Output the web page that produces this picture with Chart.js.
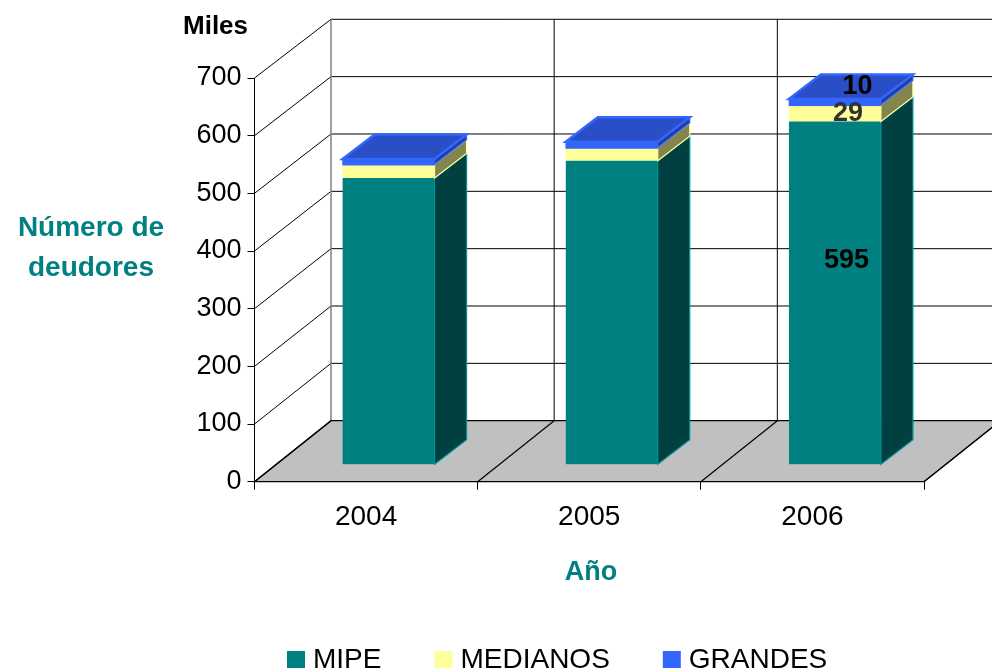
<!DOCTYPE html>
<html>
<head>
<meta charset="utf-8">
<title>Número de deudores</title>
<script src="https://cdn.jsdelivr.net/npm/chart.js@4.4.0/dist/chart.umd.min.js"></script>
<style>
    html, body { margin: 0; padding: 0; background: #fff; }
    #chart { display: block; }
</style>
</head>
<body>
<canvas id="chart" width="992" height="669"></canvas>
<script>
// --- Data (miles de deudores) ---
const years = ['2004', '2005', '2006'];
const mipe = [497, 527, 595];
const medianos = [24, 23, 29];
const grandes = [9, 10, 10];
const yMin = 0, yMax = 700, yStep = 100;
const labelledYears = ['2006'];

const FONT = "'Liberation Sans', Arial, sans-serif";
const TEAL = '#008080';

// oblique projection of the 3D box
const FLOOR = { dx: 76.5, dy: -61, k: 0.9943 };
const BAR = { dx: 22.5, dy: -17, depthX: 32, depthY: -24.5 };
const LABEL_OFFSET = [[11.5, -32.5], [13, 0], [22.5, -15]];
const LABEL_COLOR = ['#000', '#333', '#000'];

function backY(chart, v) {
    const ys = chart.scales.y;
    const y0 = ys.getPixelForValue(0);
    return y0 + (ys.getPixelForValue(v) - y0) * FLOOR.k + FLOOR.dy;
}

function line(ctx, x1, y1, x2, y2) {
    ctx.beginPath();
    ctx.moveTo(x1, y1);
    ctx.lineTo(x2, y2);
    ctx.stroke();
}

const box3d = {
    id: 'box3d',
    beforeDatasetsDraw(chart) {
        const { ctx, chartArea: a, scales: { x: xs, y: ys } } = chart;
        const y0 = ys.getPixelForValue(0);
        ctx.save();
        ctx.lineWidth = 1;
        ctx.strokeStyle = '#000';

        // back wall gridlines + left wall diagonals
        for (let v = yMin + yStep; v <= yMax; v += yStep) {
            const by = backY(chart, v);
            line(ctx, a.left + FLOOR.dx, by, a.right + FLOOR.dx + 10, by);
            line(ctx, a.left, ys.getPixelForValue(v), a.left + FLOOR.dx, by);
        }
        // back wall verticals
        const top = backY(chart, yMax), bot = backY(chart, 0);
        for (let i = 0; i <= years.length; i++) {
            const bx = xs.getPixelForValue(i - 0.5) + FLOOR.dx;
            ctx.strokeStyle = i === 0 ? '#808080' : '#000';
            ctx.lineWidth = i === 0 ? 1.5 : 1;
            line(ctx, bx, top, bx, bot);
        }

        // floor
        ctx.lineWidth = 1.2;
        ctx.strokeStyle = '#000';
        ctx.fillStyle = '#c0c0c0';
        ctx.beginPath();
        ctx.moveTo(a.left, y0);
        ctx.lineTo(a.right, y0);
        ctx.lineTo(a.right + FLOOR.dx, y0 + FLOOR.dy);
        ctx.lineTo(a.left + FLOOR.dx, y0 + FLOOR.dy);
        ctx.closePath();
        ctx.fill();
        ctx.stroke();
        for (let i = 0; i <= years.length; i++) {
            const fx = xs.getPixelForValue(i - 0.5);
            line(ctx, fx, y0, fx + FLOOR.dx, y0 + FLOOR.dy);
        }
        ctx.restore();

        // bars sit part way into the floor
        ctx.save();
        ctx.translate(BAR.dx, BAR.dy);
    },
    afterDatasetsDraw(chart) {
        const ctx = chart.ctx;
        const n = chart.data.datasets.length;
        chart.data.datasets.forEach((ds, d) => {
            const meta = chart.getDatasetMeta(d);
            meta.data.forEach(bar => {
                const { x, y, base, width } = bar.getProps(['x', 'y', 'base', 'width'], true);
                const l = x - width / 2, r = x + width / 2;
                // right side face
                ctx.fillStyle = ds.sideColor;
                ctx.strokeStyle = ds.edgeColor;
                ctx.lineWidth = 1.2;
                ctx.beginPath();
                ctx.moveTo(r, y);
                ctx.lineTo(r + BAR.depthX, y + BAR.depthY);
                ctx.lineTo(r + BAR.depthX, base + BAR.depthY);
                ctx.lineTo(r, base);
                ctx.closePath();
                ctx.fill();
                ctx.stroke();
                // top face on the highest segment only
                if (d === n - 1) {
                    ctx.strokeStyle = ds.backgroundColor;
                    ctx.lineWidth = 2.5;
                    ctx.strokeRect(l + 1, y, width - 2, base - y);
                    ctx.fillStyle = ds.topColor;
                    ctx.beginPath();
                    ctx.moveTo(l, y);
                    ctx.lineTo(r, y);
                    ctx.lineTo(r + BAR.depthX, y + BAR.depthY);
                    ctx.lineTo(l + BAR.depthX, y + BAR.depthY);
                    ctx.closePath();
                    ctx.fill();
                    ctx.stroke();
                }
            });
        });

        // value labels
        ctx.font = 'bold 27px ' + FONT;
        ctx.textAlign = 'center';
        ctx.textBaseline = 'middle';
        chart.data.datasets.forEach((ds, d) => {
            const meta = chart.getDatasetMeta(d);
            years.forEach((yr, i) => {
                if (!labelledYears.includes(yr)) return;
                const { x, y, base } = meta.data[i].getProps(['x', 'y', 'base'], true);
                ctx.fillStyle = LABEL_COLOR[d];
                ctx.fillText(String(ds.data[i]), x + LABEL_OFFSET[d][0], (y + base) / 2 + LABEL_OFFSET[d][1]);
            });
        });
        ctx.restore();
    },
    afterDraw(chart) {
        const ctx = chart.ctx;
        ctx.save();
        // unit label
        ctx.fillStyle = '#000';
        ctx.font = 'bold 26px ' + FONT;
        ctx.textAlign = 'left';
        ctx.textBaseline = 'alphabetic';
        ctx.fillText('Miles', 183, 34);

        // axis titles
        ctx.fillStyle = TEAL;
        ctx.font = 'bold 28px ' + FONT;
        ctx.textAlign = 'center';
        ctx.fillText('Número de', 91, 236);
        ctx.fillText('deudores', 91, 276);
        ctx.font = 'bold 27px ' + FONT;
        ctx.fillText('Año', 591, 580);

        // legend
        ctx.font = '28px ' + FONT;
        ctx.textAlign = 'left';
        let lx = 287;
        chart.data.datasets.forEach(ds => {
            ctx.fillStyle = ds.backgroundColor;
            ctx.fillRect(lx, 651, 18, 17);
            ctx.fillStyle = '#000';
            ctx.fillText(ds.label, lx + 26, 668);
            lx += 26 + ctx.measureText(ds.label).width + 53;
        });
        ctx.restore();
    }
};

new Chart(document.getElementById('chart'), {
    type: 'bar',
    data: {
        labels: years,
        datasets: [
            { label: 'MIPE', data: mipe, backgroundColor: '#008080', sideColor: '#004040', edgeColor: '#009090' },
            { label: 'MEDIANOS', data: medianos, backgroundColor: '#ffff99', sideColor: '#84844f', edgeColor: '#ffff99' },
            { label: 'GRANDES', data: grandes, backgroundColor: '#3366ff', sideColor: '#1f3da0', edgeColor: '#3366ff', topColor: '#2a4ec6' }
        ]
    },
    options: {
        responsive: false,
        devicePixelRatio: 1,
        animation: false,
        layout: { padding: { top: 78, right: 68, left: 0, bottom: 0 } },
        datasets: { bar: { categoryPercentage: 1, barPercentage: 0.412, borderWidth: 0 } },
        plugins: { legend: { display: false }, tooltip: { enabled: false } },
        scales: {
            x: {
                stacked: true,
                grid: { drawOnChartArea: false, tickLength: 8, color: '#000', offset: true },
                border: { color: '#000' },
                ticks: { color: '#000', font: { family: FONT, size: 28 }, padding: 11 },
                afterFit: s => { s.height = 187.3; }
            },
            y: {
                stacked: true,
                min: yMin,
                max: yMax,
                grid: { drawOnChartArea: false, tickLength: 7, color: '#000' },
                border: { color: '#000' },
                ticks: { stepSize: yStep, color: '#000', font: { family: FONT, size: 27 }, padding: 6 },
                afterFit: s => { s.width = 254.5; }
            }
        }
    },
    plugins: [box3d]
});
</script>
</body>
</html>
